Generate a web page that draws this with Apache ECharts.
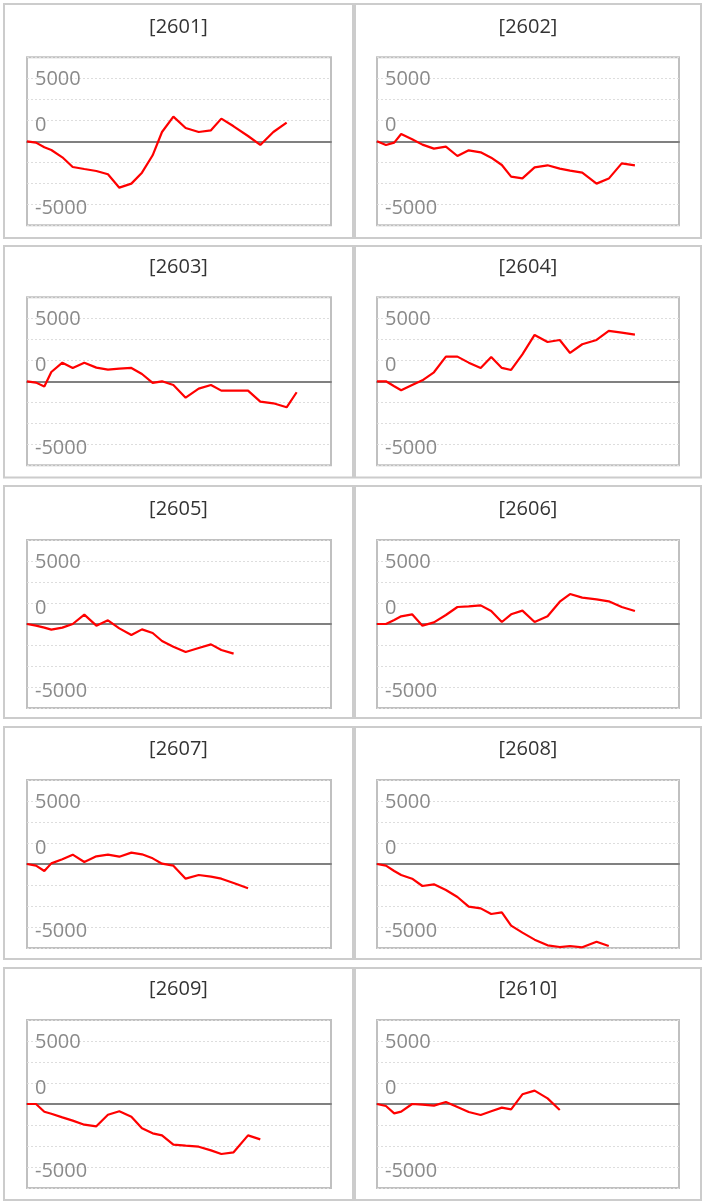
<!DOCTYPE html>
<html><head><meta charset="utf-8">
<script src="https://cdn.jsdelivr.net/npm/echarts@6/dist/echarts.min.js"></script>
<style>html,body{margin:0;padding:0;background:#fff}#c{width:708px;height:1204px}</style>
</head><body><div id="c"></div>
<script>
// Panel titles
const panelTitles = ['[2601]','[2602]','[2603]','[2604]','[2605]','[2606]','[2607]','[2608]','[2609]','[2610]'];
const xPos = [0, 0.80, 1.54, 2.16, 3.14, 4.06, 5.09, 6.16, 7.19, 8.20, 9.27, 10.21, 11.16, 11.99, 13.0, 14.09, 15.25, 16.34, 17.26, 18.35, 19.63, 20.72, 21.88, 23.06, 23.95];
// Series values
const v2601 = [0, -105, -475, -690, -1270, -2040, -2200, -2355, -2620, -3680, -3360, -2490, -1110, 740, 1960, 1060, 740, 870, 1800, 1190, 420, -290, 740, 1480];
const v2602 = [0, -290, -105, 580, 160, -265, -580, -420, -1165, -715, -875, -1300, -1880, -2805, -2940, -2065, -1905, -2170, -2330, -2490, -3360, -2960, -1750, -1905];
const v2603 = [0, -105, -420, 740, 1480, 1060, 1480, 1085, 925, 1005, 1060, 580, -130, 0, -290, -1300, -580, -290, -740, -740, -740, -1610, -1745, -2065, -870];
const v2604 = [0, 0, -390, -715, -290, 80, 715, 1960, 1960, 1480, 1060, 1930, 1060, 900, 2140, 3680, 3120, 3280, 2250, 2940, 3280, 4000, 3860, 3700];
const v2605 = [0, -130, -290, -450, -290, 0, 740, -130, 290, -345, -875, -425, -715, -1350, -1800, -2220, -1905, -1615, -2065, -2355];
const v2606 = [0, 0, 320, 610, 770, -130, 130, 715, 1350, 1400, 1480, 1030, 160, 770, 1060, 160, 610, 1770, 2380, 2090, 1960, 1800, 1350, 1030];
const v2607 = [0, -130, -555, 50, 370, 740, 160, 610, 740, 580, 900, 770, 450, 25, -130, -1165, -875, -1000, -1165, -1510, -1930];
const v2608 = [0, -130, -555, -870, -1165, -1745, -1615, -2065, -2620, -3385, -3520, -3970, -3835, -4895, -5450, -6005, -6455, -6590, -6510, -6615, -6165, -6510];
const v2609 = [0, 0, -610, -770, -1060, -1320, -1640, -1770, -850, -580, -1005, -1930, -2330, -2490, -3230, -3310, -3390, -3680, -3970, -3835, -2490, -2805];
const v2610 = [0, -160, -740, -610, 0, -50, -130, 160, -240, -635, -875, -580, -290, -425, 770, 1060, 450, -475];
const allValues = [v2601, v2602, v2603, v2604, v2605, v2606, v2607, v2608, v2609, v2610];
// Y tick labels shown in each panel and the gridline each sits on
const yTickValues = [5000, 1667, -5000];
const yTickLabels = ['5000', '0', '-5000'];
const yTickStyles = ['t0', 't1', 't2'];

const FONT = '"Open Sans", "Noto Sans", sans-serif';
const cols = [
  {gLeft: 27, gWidth: 304, pX: 4, pW: 349, cx: 178.5},
  {gLeft: 377, gWidth: 302, pX: 355, pW: 346, cx: 528}
];
const rows = [
  {gTop: 57.3, pTop: 4, pBot: 238},
  {gTop: 297.3, pTop: 246, pBot: 477.5},
  {gTop: 540, pTop: 486, pBot: 718},
  {gTop: 780, pTop: 727, pBot: 959},
  {gTop: 1020, pTop: 968, pBot: 1200}
];
const GH = 168;
const lbl = {color: '#8a8a8a', fontSize: 20, fontFamily: FONT};

const grid = [], xAxis = [], yAxis = [], series = [], graphic = [];
allValues.forEach((vals, i) => {
  const c = cols[i % 2], r = rows[Math.floor(i / 2)];
  graphic.push({type: 'rect', silent: true, z: -10,
    shape: {x: c.pX, y: r.pTop, width: c.pW, height: r.pBot - r.pTop},
    style: {fill: 'none', stroke: '#cccccc', lineWidth: 2}});
  graphic.push({type: 'text', silent: true, x: c.cx, y: r.gTop - 30.5,
    style: {text: panelTitles[i], fill: '#333333', fontSize: 20, fontFamily: FONT, align: 'center', verticalAlign: 'middle'}});
  grid.push({left: c.gLeft, top: r.gTop, width: c.gWidth, height: GH, show: true,
    borderColor: '#c0c0c0', borderWidth: 2, backgroundColor: 'transparent'});
  xAxis.push({gridIndex: i, type: 'value', min: 0, max: 27,
    axisLine: {show: true, onZero: true, lineStyle: {color: '#808080', width: 2}},
    axisTick: {show: false}, axisLabel: {show: false}, splitLine: {show: false}});
  yAxis.push({gridIndex: i, type: 'value', min: -20000 / 3, max: 20000 / 3, interval: 5000 / 3,
    axisLine: {show: false}, axisTick: {show: false},
    splitLine: {show: true, lineStyle: {color: '#dddddd', type: [2, 2], width: 1}},
    axisLabel: {inside: true, margin: 8, color: '#8a8a8a', fontSize: 20, fontFamily: FONT,
      rich: {
        t0: Object.assign({padding: [2, 0, 0, 0]}, lbl),
        t1: Object.assign({padding: [10, 0, 0, 0]}, lbl),
        t2: Object.assign({padding: [8, 0, 0, 0]}, lbl)
      },
      formatter: v => {
        const k = yTickValues.findIndex(t => Math.abs(t - v) < 2);
        return k >= 0 ? '{' + yTickStyles[k] + '|' + yTickLabels[k] + '}' : '';
      }}});
  series.push({type: 'line', xAxisIndex: i, yAxisIndex: i,
    data: vals.map((y, j) => [xPos[j], y]),
    symbol: 'none', showSymbol: false, clip: true, z: 5,
    lineStyle: {color: '#ff0000', width: 2.2}, itemStyle: {color: '#ff0000'}});
});

const chart = echarts.init(document.getElementById('c'));
chart.setOption({animation: false, backgroundColor: '#ffffff', grid, xAxis, yAxis, series, graphic});
</script>
</body></html>
